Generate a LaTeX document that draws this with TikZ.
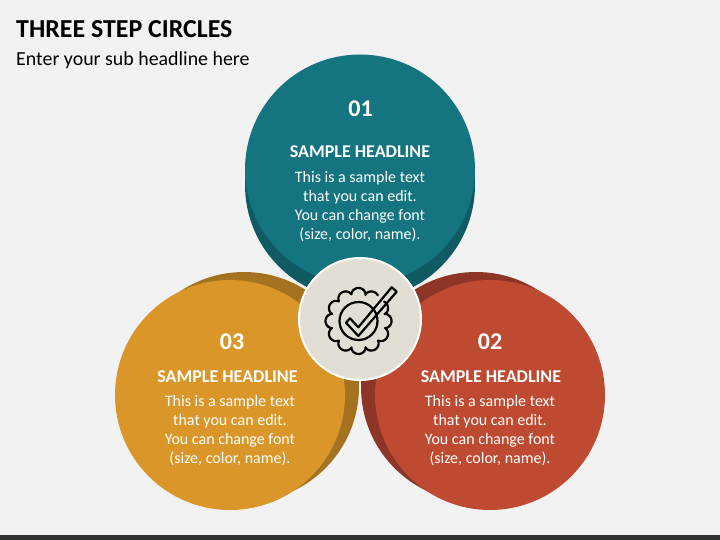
\documentclass[tikz,border=0pt]{standalone}
\usepackage{fontspec}
\setmainfont{Carlito}
\definecolor{bg}{HTML}{F2F2F2}
\definecolor{barc}{HTML}{333333}
\definecolor{tealf}{HTML}{14747F}
\definecolor{teals}{HTML}{0F5A63}
\definecolor{orf}{HTML}{DA9628}
\definecolor{ors}{HTML}{A5721F}
\definecolor{redf}{HTML}{BE4B31}
\definecolor{reds}{HTML}{8E3528}
\definecolor{beige}{HTML}{E3DED3}
\tikzset{
  disc/.style={circle,minimum size=230pt,inner sep=0pt,outer sep=0pt},
  numtxt/.style={text=white,font=\fontsize{24}{25}\selectfont\bfseries,anchor=center,inner sep=0pt},
  headtxt/.style={text=white,font=\fontsize{18}{20}\selectfont\bfseries,anchor=center,inner sep=0pt},
  bodytxt/.style={text=white,font=\fontsize{16}{19}\selectfont,align=center,anchor=center,inner sep=0pt},
  iconline/.style={draw=black,line width=2.2pt,line join=round,line cap=round}
}
\begin{document}
\begin{tikzpicture}[x=1pt,y=-1pt]
\useasboundingbox (0,0) rectangle (720,540);
\fill[bg] (0,0) rectangle (720,540);
\fill[barc] (0,535) rectangle (720,540);
\node[anchor=west,inner sep=0pt,font=\fontsize{25.9}{28}\selectfont\bfseries] (title) at (16,29) {THREE STEP CIRCLES};
\node[anchor=west,inner sep=0pt,font=\fontsize{19.9}{22}\selectfont] (sub) at (16,60) {Enter your sub headline here};
% orange
\node[disc,fill=ors] (os) at (244,387) {};
\node[disc,fill=orf] (of) at (230,395) {};
% red
\node[disc,fill=reds] (rs) at (476,387) {};
\node[disc,fill=redf] (rf) at (490,395) {};
% teal
\node[disc,fill=teals] (ts) at (360,185) {};
\node[disc,fill=tealf] (tf) at (360,169.5) {};
% centre
\node[circle,minimum size=122pt,inner sep=0pt,fill=beige,draw=white,line width=2pt] (hub) at (360,319) {};
% icon
\draw[iconline] plot[samples=360,domain=53:397] ({358.5+(26.5+6.5*sqrt(abs(cos(6*\x))))*cos(\x)},{321-(26.5+6.5*sqrt(abs(cos(6*\x))))*sin(\x)});
\draw[iconline] (358.5,321) circle[radius=19];
\draw[iconline] (346,322.7) -- (350,318.3) -- (358.3,327.3) -- (391.7,287.3) -- (396.7,291.7) -- (358.3,336) -- cycle;
% texts
\node[numtxt] (n1) at (360.5,108.5) {01};
\node[headtxt] (h1) at (360,152) {SAMPLE HEADLINE};
\node[bodytxt] (b1) at (360,207) {This is a sample text\\that you can edit.\\You can change font\\(size, color, name).};
\node[numtxt] (n2) at (490,341.5) {02};
\node[headtxt] (h2) at (491,377) {SAMPLE HEADLINE};
\node[bodytxt] (b2) at (490,431) {This is a sample text\\that you can edit.\\You can change font\\(size, color, name).};
\node[numtxt] (n3) at (232,341.5) {03};
\node[headtxt] (h3) at (227.5,377) {SAMPLE HEADLINE};
\node[bodytxt] (b3) at (230,431) {This is a sample text\\that you can edit.\\You can change font\\(size, color, name).};
\end{tikzpicture}
\end{document}
